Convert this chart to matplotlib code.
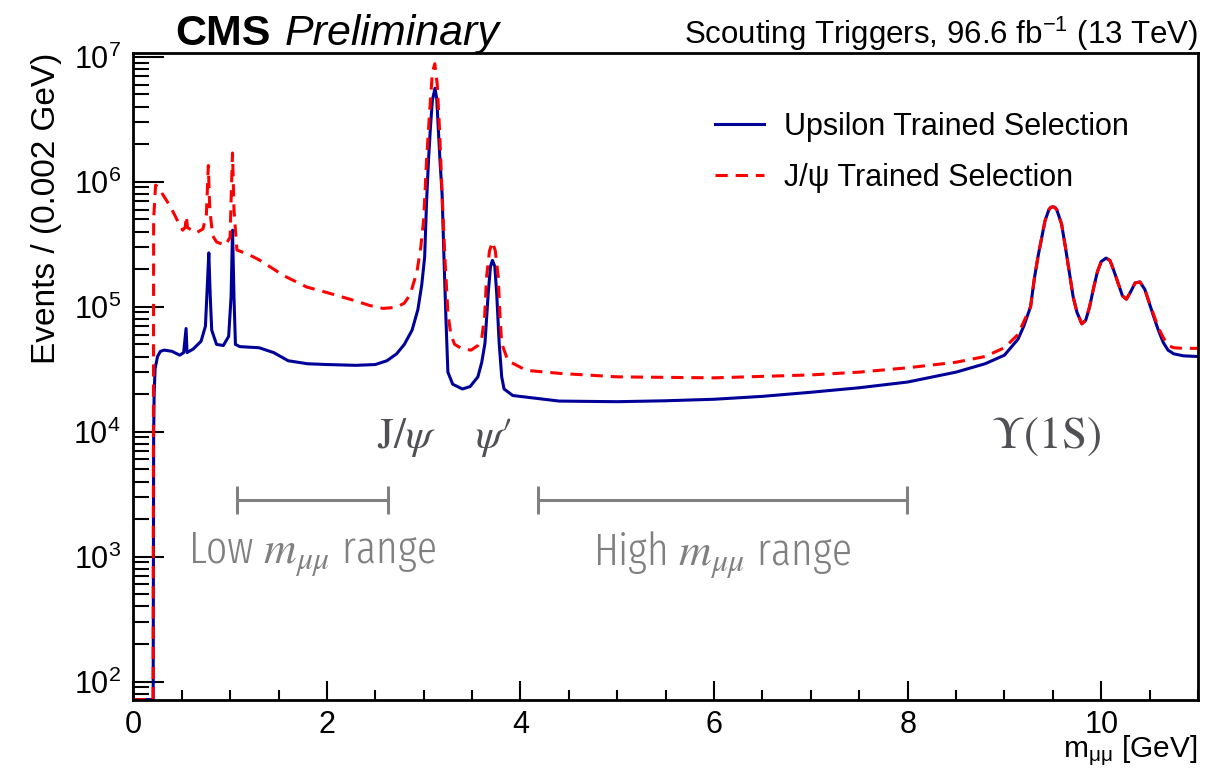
import math
import matplotlib
matplotlib.use("Agg")
import matplotlib.pyplot as plt
from matplotlib import font_manager as fm
from matplotlib.ticker import MultipleLocator, LogLocator, FuncFormatter, NullFormatter

# dimuon mass spectrum
mass_up = [0.00, 0.205, 0.21, 0.215, 0.225, 0.25, 0.28, 0.32, 0.40, 0.48, 0.52, 0.545, 0.555,
           0.62, 0.70, 0.745, 0.765, 0.78, 0.795, 0.81, 0.86, 0.93, 0.985, 1.01, 1.025, 1.04,
           1.055, 1.10, 1.30, 1.45, 1.60, 1.80, 2.00, 2.30, 2.50, 2.62, 2.72, 2.80, 2.88, 2.94,
           2.98, 3.01, 3.03, 3.05, 3.07, 3.09, 3.117, 3.135, 3.15, 3.168, 3.19, 3.21, 3.23, 3.25,
           3.30, 3.40, 3.48, 3.56, 3.60, 3.633, 3.667, 3.69, 3.71, 3.735, 3.754, 3.78, 3.806, 3.83,
           3.92, 4.40, 5.00, 5.50, 6.00, 6.50, 7.00, 7.50, 8.00,
           8.50, 8.80, 9.00, 9.14, 9.20, 9.27, 9.31, 9.35, 9.42, 9.46, 9.48, 9.50, 9.52, 9.54, 9.59,
           9.63, 9.67, 9.71, 9.75, 9.80, 9.84, 9.88, 9.92, 9.96, 10.00, 10.05, 10.09, 10.13, 10.18,
           10.22, 10.26, 10.30, 10.35, 10.40, 10.45, 10.50, 10.55, 10.59, 10.64, 10.69, 10.75,
           10.85, 11.00]
events_up = [72, 72, 9.0e3, 2.0e4, 3.2e4, 4.0e4, 4.4e4, 4.5e4, 4.4e4, 4.1e4, 4.3e4, 6.7e4, 4.3e4,
             4.6e4, 5.3e4, 7.0e4, 1.5e5, 2.7e5, 1.2e5, 6.5e4, 5.0e4, 4.9e4, 5.8e4, 1.2e5, 4.1e5, 1.2e5,
             5.0e4, 4.8e4, 4.7e4, 4.3e4, 3.7e4, 3.5e4, 3.45e4, 3.4e4, 3.45e4, 3.7e4, 4.2e4, 5.0e4, 6.5e4, 9.5e4,
             1.5e5, 2.5e5, 7.0e5, 1.5e6, 2.75e6, 4.5e6, 5.6e6, 4.6e6, 2.75e6, 1.5e6, 8.0e5, 2.4e5, 8.0e4, 3.0e4,
             2.4e4, 2.2e4, 2.3e4, 2.75e4, 3.6e4, 5.1e4, 1.29e5, 2.1e5, 2.35e5, 2.1e5, 1.29e5, 5.1e4, 2.75e4, 2.2e4,
             1.95e4, 1.76e4, 1.74e4, 1.77e4, 1.82e4, 1.92e4, 2.07e4, 2.25e4, 2.5e4,
             3.0e4, 3.5e4, 4.1e4, 5.5e4, 7.0e4, 1.0e5, 1.7e5, 2.6e5, 4.9e5, 6.0e5, 6.25e5, 6.3e5, 6.25e5, 6.0e5, 4.6e5,
             3.0e5, 1.9e5, 1.2e5, 9.0e4, 7.3e4, 7.8e4, 1.0e5, 1.4e5, 1.9e5, 2.3e5, 2.45e5, 2.35e5, 1.95e5, 1.5e5,
             1.22e5, 1.15e5, 1.3e5, 1.55e5, 1.58e5, 1.38e5, 1.05e5, 8.0e4, 6.5e4, 5.2e4, 4.5e4, 4.2e4,
             4.05e4, 4.0e4]

mass_jpsi = [0.00, 0.205, 0.21, 0.23, 0.26, 0.30, 0.38, 0.45, 0.51, 0.535, 0.548, 0.56, 0.65,
             0.72, 0.755, 0.775, 0.79, 0.82, 0.86, 0.95, 1.00, 1.012, 1.025, 1.04, 1.07, 1.20,
             1.31, 1.45, 1.55, 1.79, 2.00, 2.27, 2.45, 2.58, 2.72, 2.80, 2.86, 2.93, 2.97, 3.00,
             3.03, 3.06, 3.09, 3.115, 3.14, 3.165, 3.19, 3.22, 3.25, 3.28, 3.32, 3.40, 3.49, 3.56,
             3.60, 3.63, 3.65, 3.68, 3.71, 3.74, 3.77, 3.79, 3.806, 3.87, 4.06, 4.41, 5.00, 6.00,
             7.00, 7.50, 8.00, 8.50, 8.80, 9.00, 9.14, 9.20, 9.27, 9.31,
             9.35, 9.42, 9.46, 9.48, 9.50, 9.52, 9.54, 9.59, 9.63, 9.67, 9.71, 9.75, 9.80, 9.84, 9.88, 9.92,
             9.96, 10.00, 10.05, 10.09, 10.13, 10.18, 10.22, 10.26, 10.30, 10.35, 10.40, 10.45,
             10.50, 10.55, 10.59, 10.64, 10.69, 10.75, 10.85, 11.00]
events_jpsi = [72, 72, 5.0e5, 9.4e5, 9.0e5, 8.0e5, 6.4e5, 5.0e5, 4.1e5, 4.3e5, 5.3e5, 4.3e5, 3.9e5,
               4.2e5, 5.5e5, 1.35e6, 6.0e5, 3.7e5, 3.3e5, 3.1e5, 3.6e5, 8.0e5, 1.7e6, 6.0e5, 2.85e5, 2.6e5,
               2.35e5, 2.0e5, 1.78e5, 1.44e5, 1.3e5, 1.13e5, 1.02e5, 9.7e4, 9.9e4, 1.07e5, 1.25e5, 1.9e5, 3.0e5, 5.0e5,
               1.5e6, 3.5e6, 7.5e6, 8.8e6, 6.0e6, 2.5e6, 8.0e5, 2.4e5, 9.0e4, 6.0e4, 5.0e4, 4.6e4, 4.5e4, 4.9e4,
               5.6e4, 8.5e4, 1.74e5, 2.8e5, 3.3e5, 2.8e5, 1.74e5, 8.0e4, 5.1e4, 3.7e4, 3.1e4, 2.93e4, 2.75e4, 2.7e4,
               2.85e4, 3.0e4, 3.25e4, 3.6e4, 4.0e4, 4.7e4, 6.0e4, 7.6e4, 1.0e5, 1.7e5,
               2.6e5, 4.9e5, 6.0e5, 6.25e5, 6.3e5, 6.25e5, 6.0e5, 4.6e5, 3.0e5, 1.9e5, 1.2e5, 9.0e4, 7.3e4, 7.8e4, 1.0e5, 1.4e5,
               1.9e5, 2.3e5, 2.45e5, 2.35e5, 1.95e5, 1.5e5, 1.22e5, 1.15e5, 1.3e5, 1.55e5, 1.58e5, 1.38e5,
               1.06e5, 8.3e4, 6.8e4, 5.7e4, 4.9e4, 4.7e4, 4.65e4, 4.65e4]

# analysis ranges (GeV)
low_range = [1.07, 2.63]
high_range = [4.18, 7.99]
range_level = 2.84e3


def narrow_font():
    # look for a condensed / narrow face among the installed fonts
    prefs = ['extracondensedlight', 'condensedlight', 'extracondensed', 'condensed', 'narrow']
    best, best_rank = None, len(prefs)
    for f in fm.fontManager.ttflist:
        fn = f.fname.lower().replace('-', '').replace('_', '')
        if f.style != 'normal' or 'mono' in fn or 'serif' in fn.replace('sansserif', ''):
            continue
        for i, key in enumerate(prefs):
            if key in fn and i < best_rank:
                if key == 'condensedlight' and 'semicondensed' in fn:
                    continue
                best, best_rank = f.fname, i
                break
    return best


plt.rcParams['font.family'] = ['Liberation Sans', 'DejaVu Sans']
plt.rcParams['mathtext.fontset'] = 'custom'
plt.rcParams['mathtext.rm'] = 'Liberation Sans'
plt.rcParams['mathtext.it'] = 'Liberation Sans:italic'

fig = plt.figure(figsize=(12.31, 7.68), dpi=100)
ax = fig.add_axes([0.1083, 0.0885, 0.8649, 0.8428])

ax.plot(mass_up, events_up, color='#000099', lw=2.2, label='Upsilon Trained Selection')
ax.plot(mass_jpsi, events_jpsi, color='#ff0000', lw=2.2, linestyle=(0, (4, 2.6)),
        label='J/\u03c8 Trained Selection')

ax.set_yscale('log')
ax.set_xlim(0, 11)
ax.set_ylim(71.4, 1.077e7)

ax.xaxis.set_major_locator(MultipleLocator(2))
ax.xaxis.set_minor_locator(MultipleLocator(0.5))
ax.yaxis.set_major_locator(LogLocator(base=10, numticks=20))
ax.yaxis.set_minor_locator(LogLocator(base=10, subs=range(2, 10), numticks=20))
ax.yaxis.set_minor_formatter(NullFormatter())
ax.yaxis.set_major_formatter(FuncFormatter(lambda v, p: r'$\mathregular{10^{%d}}$' % round(math.log10(v))))

ax.tick_params(axis='both', which='both', direction='in', top=False, right=False,
               labelsize=22, width=1.5)
ax.tick_params(axis='y', which='major', length=22, pad=9)
ax.tick_params(axis='y', which='minor', length=11.5)
ax.tick_params(axis='x', which='major', length=14, pad=7.5)
ax.tick_params(axis='x', which='minor', length=7)
for s in ax.spines.values():
    s.set_linewidth(2)

ax.set_ylabel('Events / (0.002 GeV)', fontsize=24, loc='top')
ax.yaxis.set_label_coords(-0.067, 1.0)
ax.set_xlabel('m$_{\\mathregular{\u03bc\u03bc}}$ [GeV]', fontsize=21.5, loc='right')
ax.xaxis.set_label_coords(1.0, -0.052)

ax.text(0.0393, 1.012, 'CMS', transform=ax.transAxes, fontsize=31, fontweight='bold',
        va='baseline', ha='left')
ax.text(0.1423, 1.012, 'Preliminary', transform=ax.transAxes, fontsize=31, style='italic',
        va='baseline', ha='left')
ax.text(1.0, 1.0135, r'Scouting Triggers, 96.6 fb$\mathregular{^{-1}}$ (13 TeV)',
        transform=ax.transAxes, fontsize=22.5, va='baseline', ha='right')

ax.legend(loc='upper left', bbox_to_anchor=(0.546, 0.909), frameon=False, fontsize=22,
          handlelength=1.63, handletextpad=0.65, labelspacing=0.7, borderpad=0,
          borderaxespad=0)

# resonance labels
label_color = '#505055'
ax.text(0.2289, 0.405, r'$\mathrm{J}/\psi$', transform=ax.transAxes,
        fontsize=31, color=label_color, ha='left', va='center', math_fontfamily='stix')
ax.text(0.321, 0.405, r'$\psi\prime$', transform=ax.transAxes,
        fontsize=31, color=label_color, ha='left', va='center', math_fontfamily='stix')
ax.text(0.8056, 0.407, r'$\Upsilon\mathrm{(1S)}$', transform=ax.transAxes,
        fontsize=32.5, color=label_color, ha='left', va='center', math_fontfamily='stix')

# analysis range bars
for rng in (low_range, high_range):
    mid = 0.5 * (rng[0] + rng[1])
    ax.errorbar([mid], [range_level], xerr=[[mid - rng[0]], [rng[1] - mid]], fmt='none',
                ecolor='#808080', elinewidth=2.2, capsize=10, capthick=2.2)

nf = narrow_font()
if nf:
    rprop = fm.FontProperties(fname=nf, size=32.5, math_fontfamily='stix')
else:
    rprop = fm.FontProperties(family='DejaVu Sans', size=26, math_fontfamily='stix')
ax.text(0.168, 0.224, r'Low $m_{\mu\mu}$ range', transform=ax.transAxes,
        color='#808080', ha='center', va='center', fontproperties=rprop)
ax.text(0.553, 0.224, r'High $m_{\mu\mu}$ range', transform=ax.transAxes,
        color='#808080', ha='center', va='center', fontproperties=rprop)

fig.savefig('out.png', dpi=100)
